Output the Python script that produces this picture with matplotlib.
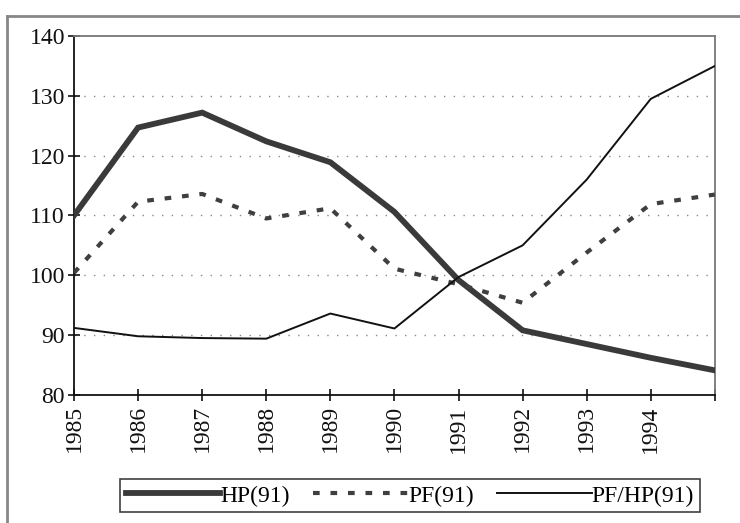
import matplotlib
matplotlib.use("Agg")
import matplotlib.pyplot as plt
from matplotlib.patches import Rectangle
from matplotlib.lines import Line2D

years = [1985, 1986, 1987, 1988, 1989, 1990, 1991, 1992, 1993, 1994, 1995]
hp = [110.0, 124.7, 127.2, 122.4, 118.9, 110.6, 99.2, 90.8, 88.5, 86.2, 84.1]
pf = [100.4, 112.3, 113.6, 109.5, 111.2, 101.1, 98.5, 95.4, 103.8, 111.9, 113.5]
pf_hp = [91.2, 89.8, 89.5, 89.4, 93.6, 91.1, 99.7, 105.0, 116.0, 129.5, 135.0]
tick_labels = ["1985", "1986", "1987", "1988", "1989", "1990", "1991", "1992", "1993", "1994", ""]
yticks = [80, 90, 100, 110, 120, 130, 140]
series_names = ["HP(91)", "PF(91)", "PF/HP(91)"]

plt.rcParams['font.family'] = ['Liberation Serif', 'DejaVu Serif']

fig = plt.figure(figsize=(7.4, 5.23), dpi=100)
fig.patch.set_facecolor('white')
ax = fig.add_axes([0.1, 0.245, 0.866, 0.686])

for y in [90, 100, 110, 120, 130]:
    ax.axhline(y, color='#888888', lw=1.0, ls=(0, (1, 6)), zorder=1)

ax.plot(years, hp, color='#3a3a3a', lw=4.2, solid_joinstyle='miter', label=series_names[0], zorder=3)
ax.plot(years, pf, color='#3f3f3f', lw=3.0, ls=(0, (1.6, 2.6)), label=series_names[1], zorder=3)
ax.plot(years, pf_hp, color='#111111', lw=1.4, label=series_names[2], zorder=3)

ax.set_xlim(1985, 1995)
ax.set_ylim(80, 140)
ax.set_xticks(years)
ax.set_xticklabels(tick_labels, rotation=90, fontsize=17)
ax.set_yticks(yticks)
ax.set_yticklabels([str(v) for v in yticks], fontsize=17)
ax.tick_params(axis='both', direction='inout', length=9, width=1.2, colors='#111111')
ax.tick_params(axis='y', pad=2)
ax.tick_params(axis='x', pad=3)

for s in ['left', 'bottom']:
    ax.spines[s].set_color('#111111')
    ax.spines[s].set_linewidth(1.3)
for s in ['top', 'right']:
    ax.spines[s].set_color('#777777')
    ax.spines[s].set_linewidth(1.3)
    ax.spines[s].set_linestyle((0, (2, 1)))

leg = fig.legend(loc='center', bbox_to_anchor=(0.554, 0.052), ncol=3, fontsize=17,
                 handlelength=4.0, handletextpad=0.0, columnspacing=1.0,
                 frameon=True, fancybox=False, borderpad=0.25, borderaxespad=0)
leg.get_frame().set_edgecolor('#111111')
leg.get_frame().set_linewidth(1.2)

fig.add_artist(Line2D([7/740, 7/740], [0, 1 - 16/523], transform=fig.transFigure, color='#888888', lw=2))
fig.add_artist(Line2D([7/740, 1], [1 - 16/523, 1 - 16/523], transform=fig.transFigure, color='#888888', lw=2))

fig.savefig('out.png', dpi=100, facecolor='white')
